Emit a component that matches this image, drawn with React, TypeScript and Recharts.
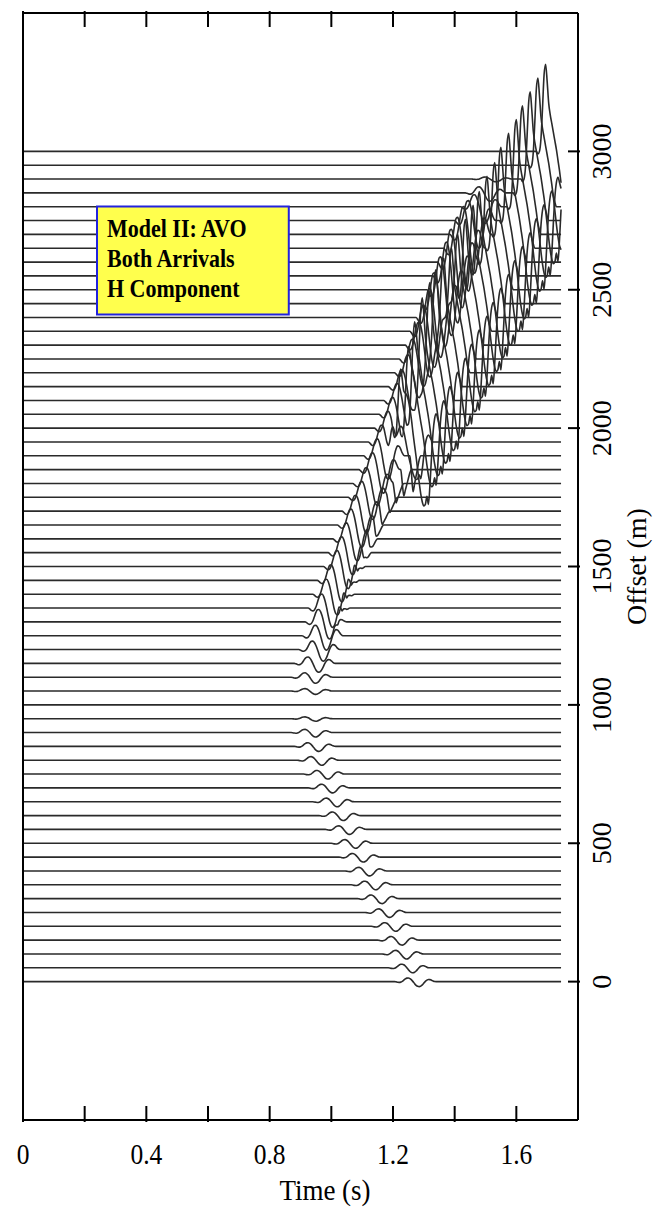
import React from "react";
import { LineChart, Line, XAxis, YAxis, ReferenceArea, Label } from "recharts";

// trace offsets (m), one wiggle per 50 m
const OFFSETS = [
  0, 50, 100, 150, 200, 250, 300, 350, 400, 450, 500, 550, 600, 650, 700, 750, 800, 850, 900, 950,
  1000, 1050, 1100, 1150, 1200, 1250, 1300, 1350, 1400, 1450, 1500, 1550, 1600, 1650, 1700, 1750,
  1800, 1850, 1900, 1950, 2000, 2050, 2100, 2150, 2200, 2250, 2300, 2350, 2400, 2450, 2500, 2550,
  2600, 2650, 2700, 2750, 2800, 2850, 2900, 2950, 3000,
];

// first arrival: trough time (s) and amplitude (m) per trace
const TIME_A = [
  1.285, 1.265, 1.245, 1.23, 1.21, 1.19, 1.165, 1.145, 1.125, 1.105, 1.08, 1.06, 1.04, 1.02, 1.005,
  0.99, 0.97, 0.96, 0.95, 0.95, 0.945, 0.95, 0.95, 0.96, 0.975, 0.985, 0.995, 1.005, 1.02, 1.035,
  1.055, 1.07, 1.085, 1.1, 1.115, 1.135, 1.15, 1.17, 1.185, 1.2, 1.22, 1.235, 1.25, 1.265, 1.285,
  1.3, 1.32, 1.335, 1.355, 1.37, 1.39, 1.41, 1.425, 1.445, 1.465, 1.48, 1.5, 1.515, 1.535, 1.555, 1.57,
];
const AMP_A = [
  18, 18, 18, 18, 18, 18, 18, 18, 18, 18, 18, 18, 18, 18, 18, 18, 18, 18, 16, 9, 0, 12, 22, 32, 42,
  52, 62, 70, 75, 78, 80, 80, 80, 80, 80, 80, 80, 85, 85, 85, 85, 85, 85, 85, 90, 100, 115, 130,
  145, 155, 165, 170, 165, 155, 140, 100, 60, 30, 10, 0, 0,
];

// second arrival, mid offsets: sharp trough time (s) and depth (m)
const TIME_B = [
  null, null, null, null, null, null, null, null, null, null, null, null, null, null, null, null,
  null, null, null, null, null, null, null, null, null, null, 1.02, 1.035, 1.05, 1.065, 1.085, 1.105,
  1.125, 1.145, 1.165, 1.19, 1.21, 1.235, 1.265, null, null, null, null, null, null, null, null,
  null, null, null, null, null, null, null, null, null, null, null, null, null, null,
];
const AMP_B = [
  0, 0, 0, 0, 0, 0, 0, 0, 0, 0, 0, 0, 0, 0, 0, 0, 0, 0, 0, 0, 0, 0, 0, 0, 0, 0, 30, 40, 45, 50, 50,
  50, 50, 50, 50, 55, 70, 95, 130, 0, 0, 0, 0, 0, 0, 0, 0, 0, 0, 0, 0, 0, 0, 0, 0, 0, 0, 0, 0, 0, 0,
];

// second arrival, far offsets: peak time (s) and peak height (m)
const TIME_C = [
  null, null, null, null, null, null, null, null, null, null, null, null, null, null, null, null,
  null, null, null, null, null, null, null, null, null, null, null, null, null, null, null, null,
  null, null, null, null, null, null, null, 1.2, 1.225, 1.25, 1.27, 1.295, 1.32, 1.34, 1.365, 1.39,
  1.41, 1.435, 1.46, 1.48, 1.505, 1.53, 1.55, 1.575, 1.6, 1.62, 1.645, 1.67, 1.695,
];
const AMP_C = [
  0, 0, 0, 0, 0, 0, 0, 0, 0, 0, 0, 0, 0, 0, 0, 0, 0, 0, 0, 0, 0, 0, 0, 0, 0, 0, 0, 0, 0, 0, 0, 0,
  0, 0, 0, 0, 0, 0, 0, 140, 290, 270, 280, 285, 290, 295, 300, 300, 300, 305, 305, 305, 310, 310,
  315, 315, 315, 315, 315, 315, 315,
];

// pulse shapes sampled every 5 ms; *_CENTER is the sample the arrival time refers to
const WAVE_A = [
  0, -0.05, -0.12, -0.15, -0.1, 0.05, 0.3, 0.55, 0.7, 0.72, 0.6, 0.35, 0, -0.4, -0.75, -0.95, -1,
  -0.9, -0.65, -0.3, 0.05, 0.3, 0.42, 0.4, 0.28, 0.12, 0.02, 0,
];
const A_CENTER = 16;
const WAVE_B = [0, -0.5, -1, -0.78, -0.56, -0.33, -0.11, 0];
const B_CENTER = 2;
const WAVE_C = [
  0, -0.03, 0, 0.15, 0.5, 0.88, 1, 0.8, 0.55, 0.42, 0.32, 0.22, 0.12, 0.02, -0.1, -0.22, -0.36,
  -0.52, -0.68, -0.82, -0.92, -0.97, -0.95, -0.85, -0.95, -0.7, -0.35, -0.05, 0.12, 0.18, 0.12,
  0.05, 0,
];
const C_CENTER = 6;

const DT = 0.005;
const N_SAMPLES = 350; // traces run 0 .. 1.745 s

const X_TICKS = [0, 0.2, 0.4, 0.6, 0.8, 1.0, 1.2, 1.4, 1.6];
const X_LABELS = [0, 0.4, 0.8, 1.2, 1.6];
const Y_TICKS = [0, 500, 1000, 1500, 2000, 2500, 3000];

const SERIF = "'Liberation Serif', 'Times New Roman', serif";
const TRACE = "#2a2a2a";

function pulse(wave: number[], center: number, t: number | null, amp: number, j: number) {
  if (t == null || !amp) return 0;
  const k = j - Math.round(t / DT) + center;
  return k >= 0 && k < wave.length ? amp * wave[k] : 0;
}

function buildRows() {
  const rows: Record<string, number>[] = [];
  for (let j = 0; j < N_SAMPLES; j++) {
    const row: Record<string, number> = { t: +(j * DT).toFixed(3) };
    OFFSETS.forEach((off, i) => {
      row[`tr${i}`] =
        off +
        pulse(WAVE_A, A_CENTER, TIME_A[i], AMP_A[i], j) +
        pulse(WAVE_B, B_CENTER, TIME_B[i], AMP_B[i], j) +
        pulse(WAVE_C, C_CENTER, TIME_C[i], AMP_C[i], j);
    });
    rows.push(row);
  }
  return rows;
}

const rows = buildRows();

const BottomTick = ({ x, y, payload }: any) => {
  const v = payload.value;
  return (
    <g>
      <line x1={x} x2={x} y1={y} y2={y - 16} stroke="#000" strokeWidth={2} />
      {X_LABELS.includes(v) && (
        <text
          transform={`translate(${x} ${y + 42}) scale(0.85 1)`}
          textAnchor="middle"
          fontFamily={SERIF}
          fontSize={30}
          fill="#000"
        >
          {String(v)}
        </text>
      )}
    </g>
  );
};

const TopTick = ({ x, y }: any) => (
  <line x1={x} x2={x} y1={y} y2={y + 16} stroke="#000" strokeWidth={2} />
);

const RightTick = ({ x, y, payload }: any) => (
  <g>
    <line x1={x} x2={x - 12} y1={y} y2={y} stroke="#000" strokeWidth={2} />
    <text
      transform={`translate(${x + 21} ${y}) rotate(-90)`}
      textAnchor="middle"
      dominantBaseline="central"
      fontFamily={SERIF}
      fontSize={28}
      fill="#000"
    >
      {String(payload.value)}
    </text>
  </g>
);

const LeftTick = ({ x, y }: any) => (
  <line x1={x} x2={x + 10} y1={y} y2={y} stroke="#000" strokeWidth={2} />
);

const TimeTitle = ({ viewBox }: any) => (
  <text
    transform={`translate(${viewBox.x + 302} ${viewBox.y + 80}) scale(0.9 1)`}
    textAnchor="middle"
    fontFamily={SERIF}
    fontSize={30}
    fill="#000"
  >
    Time (s)
  </text>
);

const OffsetTitle = ({ viewBox }: any) => (
  <text
    transform={`translate(${viewBox.x + 58} ${viewBox.y + viewBox.height / 2}) rotate(-90)`}
    textAnchor="middle"
    dominantBaseline="central"
    fontFamily={SERIF}
    fontSize={28}
    fill="#000"
  >
    Offset (m)
  </text>
);

const BoxText = ({ viewBox }: any) => {
  const lines = ["Model II: AVO", "Both Arrivals", "H Component"];
  return (
    <g>
      {lines.map((s, i) => (
        <text
          key={s}
          transform={`translate(${viewBox.x + 10} ${viewBox.y + 31 + i * 30}) scale(0.88 1.05)`}
          fontFamily={SERIF}
          fontWeight="bold"
          fontSize={25}
          fill="#000"
        >
          {s}
        </text>
      ))}
    </g>
  );
};

export default function App() {
  return (
    <div style={{ position: "absolute", left: 0, top: 0, background: "#fff" }}>
      <LineChart
        width={654}
        height={1211}
        data={rows}
        margin={{ top: 11, right: 0, bottom: 0, left: 21 }}
      >
        <XAxis
          xAxisId="b"
          dataKey="t"
          type="number"
          domain={[0, 1.8]}
          ticks={X_TICKS}
          interval={0}
          height={91}
          tickSize={0}
          tickLine={false}
          tick={<BottomTick />}
          axisLine={{ stroke: "#000", strokeWidth: 2 }}
        >
          <Label content={<TimeTitle />} />
        </XAxis>
        <XAxis
          xAxisId="t"
          orientation="top"
          dataKey="t"
          type="number"
          domain={[0, 1.8]}
          ticks={X_TICKS}
          interval={0}
          height={2}
          tickSize={0}
          tickLine={false}
          tick={<TopTick />}
          axisLine={{ stroke: "#000", strokeWidth: 2 }}
        />
        <YAxis
          yAxisId="r"
          orientation="right"
          type="number"
          domain={[-500, 3500]}
          ticks={Y_TICKS}
          interval={0}
          width={76}
          tickSize={0}
          tickLine={false}
          tick={<RightTick />}
          axisLine={{ stroke: "#000", strokeWidth: 2 }}
        >
          <Label content={<OffsetTitle />} />
        </YAxis>
        <YAxis
          yAxisId="l"
          orientation="left"
          type="number"
          domain={[-500, 3500]}
          ticks={Y_TICKS}
          interval={0}
          width={2}
          tickSize={0}
          tickLine={false}
          tick={<LeftTick />}
          axisLine={{ stroke: "#000", strokeWidth: 2 }}
        />
        {OFFSETS.map((off, i) => (
          <Line
            key={off}
            xAxisId="b"
            yAxisId="r"
            dataKey={`tr${i}`}
            type="monotone"
            stroke={TRACE}
            strokeWidth={1.6}
            dot={false}
            activeDot={false}
            isAnimationActive={false}
          />
        ))}
        <ReferenceArea
          xAxisId="b"
          yAxisId="r"
          x1={0.24}
          x2={0.862}
          y1={2411}
          y2={2801}
          fill="#ffff4d"
          fillOpacity={1}
          stroke="#2222dd"
          strokeWidth={2}
          ifOverflow="visible"
          zIndex={1000}
          label={<BoxText />}
        />
      </LineChart>
    </div>
  );
}
